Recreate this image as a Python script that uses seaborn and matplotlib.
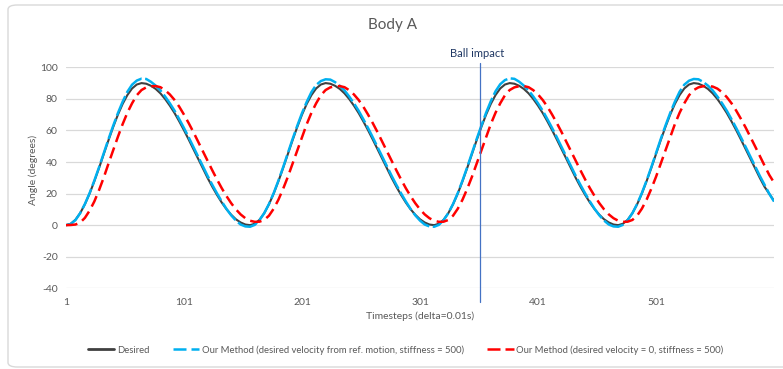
import matplotlib
matplotlib.use("Agg")
import matplotlib.pyplot as plt
from matplotlib.lines import Line2D
from matplotlib.patches import FancyBboxPatch
import seaborn as sns
import pandas as pd

# ---------------- data ----------------
timesteps = list(range(1, 602, 4))

desired = [
    0.0, 0.9, 3.4, 7.6, 13.2, 20.0, 27.8, 36.2, 45.0, 53.8, 62.2, 70.0, 76.8,
    82.4, 86.6, 89.1, 90.0, 89.6, 88.3, 86.3, 83.5, 79.9, 75.7, 71.0, 65.7, 60.1,
    54.2, 48.1, 41.9, 35.8, 29.9, 24.3, 19.1, 14.3, 10.1, 6.6, 3.7, 1.7, 0.4,
    0.0, 0.9, 3.4, 7.6, 13.2, 20.0, 27.8, 36.2, 45.0, 53.8, 62.2, 70.0, 76.8,
    82.4, 86.6, 89.1, 90.0, 89.6, 88.3, 86.3, 83.5, 79.9, 75.7, 71.0, 65.7, 60.1,
    54.2, 48.1, 41.9, 35.8, 29.9, 24.3, 19.1, 14.3, 10.1, 6.6, 3.7, 1.7, 0.4,
    0.0, 0.9, 3.4, 7.6, 13.2, 20.0, 27.8, 36.2, 45.0, 53.8, 62.2, 70.0, 76.8,
    82.4, 86.6, 89.1, 90.0, 89.6, 88.3, 86.3, 83.5, 79.9, 75.7, 71.0, 65.7, 60.1,
    54.2, 48.1, 41.9, 35.8, 29.9, 24.3, 19.1, 14.3, 10.1, 6.6, 3.7, 1.7, 0.4,
    0.0, 0.9, 3.4, 7.6, 13.2, 20.0, 27.8, 36.2, 45.0, 53.8, 62.2, 70.0, 76.8,
    82.4, 86.6, 89.1, 90.0, 89.6, 88.3, 86.3, 83.5, 79.9, 75.7, 71.0, 65.7, 60.1,
    54.2, 48.1, 41.9, 35.8, 29.9, 24.3, 19.8, 15.5,
]

ours_ref_velocity = [
    0.0, 0.7, 3.2, 7.6, 13.4, 20.3, 28.2, 36.7, 45.6, 54.5, 63.0, 71.0, 78.2,
    84.5, 89.0, 91.6, 92.8, 92.6, 90.8, 88.4, 85.4, 81.5, 77.2, 72.5, 67.1, 61.5,
    55.6, 49.5, 43.3, 37.2, 31.2, 25.5, 20.1, 15.0, 10.3, 6.2, 2.9, 0.4, -0.8,
    -1.0, 0.2, 3.2, 7.6, 13.4, 20.3, 28.2, 36.7, 45.6, 54.5, 63.0, 71.0, 78.1,
    84.3, 88.8, 91.3, 92.4, 92.2, 90.6, 88.3, 85.4, 81.5, 77.2, 72.5, 67.1, 61.5,
    55.6, 49.5, 43.3, 37.2, 31.2, 25.5, 20.1, 15.0, 10.3, 6.2, 2.9, 0.4, -0.8,
    -1.0, 0.2, 3.2, 7.6, 13.4, 20.3, 28.2, 36.7, 45.6, 54.5, 63.0, 71.2, 78.5,
    84.8, 89.3, 91.9, 93.0, 92.7, 90.9, 88.4, 85.4, 81.5, 77.2, 72.5, 67.1, 61.5,
    55.6, 49.5, 43.3, 37.2, 31.2, 25.5, 20.1, 15.0, 10.3, 6.2, 2.9, 0.4, -0.8,
    -1.0, 0.2, 3.2, 7.6, 13.4, 20.3, 28.2, 36.7, 45.6, 54.5, 63.0, 71.0, 78.2,
    84.5, 89.0, 91.5, 92.6, 92.4, 90.7, 88.4, 85.4, 81.5, 77.2, 72.5, 67.1, 61.5,
    55.6, 49.5, 43.3, 37.2, 31.2, 25.5, 19.9, 15.0,
]

ours_zero_velocity = [
    0.0, 0.1, 0.4, 1.6, 4.6, 9.2, 15.0, 22.2, 30.2, 39.0, 47.5, 56.0, 64.0,
    71.2, 77.2, 82.3, 85.6, 87.3, 88.0, 88.1, 87.4, 85.5, 82.8, 79.3, 75.0, 70.0,
    64.6, 58.9, 52.9, 46.8, 40.7, 34.7, 28.9, 23.4, 18.4, 13.9, 10.0, 6.8, 4.4,
    2.8, 2.1, 2.2, 3.3, 6.0, 10.4, 16.1, 23.0, 30.6, 39.0, 47.5, 56.0, 64.0,
    71.2, 77.2, 82.3, 85.6, 87.3, 88.0, 88.1, 87.4, 85.5, 82.8, 79.3, 75.0, 70.0,
    64.6, 58.9, 52.9, 46.8, 40.7, 34.7, 28.9, 23.4, 18.4, 13.9, 10.0, 6.8, 4.4,
    2.8, 2.1, 2.2, 3.3, 6.0, 10.4, 16.1, 23.0, 30.6, 39.0, 47.5, 56.0, 64.0,
    71.2, 77.2, 82.3, 85.6, 87.3, 88.0, 88.1, 87.4, 85.5, 82.8, 79.3, 75.0, 70.0,
    64.6, 58.9, 52.9, 46.8, 40.7, 34.7, 28.9, 23.4, 18.4, 13.9, 10.0, 6.8, 4.4,
    2.8, 2.1, 2.2, 3.3, 6.0, 10.4, 16.1, 23.0, 30.6, 39.0, 47.5, 56.0, 64.0,
    71.2, 77.2, 82.3, 85.6, 87.3, 88.0, 88.1, 87.8, 86.5, 84.2, 81.1, 77.2, 72.5,
    67.3, 61.8, 55.9, 49.9, 43.8, 37.7, 31.8, 27.0,
]

series_names = [
    "Desired",
    "Our Method (desired velocity from ref. motion, stiffness = 500)",
    "Our Method (desired velocity = 0, stiffness = 500)",
]
x_tick_values = [1, 101, 201, 301, 401, 501]
y_tick_values = [-40, -20, 0, 20, 40, 60, 80, 100]
impact_step = 352
title_text = "Body A"
impact_text = "Ball impact"
x_label = "Timesteps (delta=0.01s)"
y_label = "Angle (degrees)"

# ---------------- styling ----------------
sns.set_theme(style="white")
plt.rcParams["font.family"] = ["Lato", "DejaVu Sans"]
plt.rcParams["axes.unicode_minus"] = False

colors = {series_names[0]: "#404040", series_names[1]: "#00b0f0", series_names[2]: "#ff0000"}
dashes = {series_names[0]: "", series_names[1]: (8.5, 1.4), series_names[2]: (4.6, 2.3)}
widths = {series_names[0]: 1.5, series_names[1]: 1.8, series_names[2]: 1.8}
text_gray = "#595959"

df = pd.concat([
    pd.DataFrame({"t": timesteps, "angle": desired, "series": series_names[0]}),
    pd.DataFrame({"t": timesteps, "angle": ours_ref_velocity, "series": series_names[1]}),
    pd.DataFrame({"t": timesteps, "angle": ours_zero_velocity, "series": series_names[2]}),
])

W, H = 783, 369
fig = plt.figure(figsize=(W / 100, H / 100), dpi=100)
ax = fig.add_axes([66 / W, 1 - 288.3 / H, (774 - 66) / W, (288.3 - 67.3) / H])

for name in series_names:
    sub = df[df["series"] == name]
    sns.lineplot(data=sub, x="t", y="angle", ax=ax, color=colors[name],
                 lw=widths[name], dashes=False, legend=False, estimator=None,
                 sort=False)
    line = ax.get_lines()[-1]
    if dashes[name]:
        line.set_dashes(dashes[name])

ax.set_xlim(1, 601)
ax.set_ylim(-40, 100)
ax.set_yticks(y_tick_values)
ax.set_yticklabels([str(v) for v in y_tick_values])
ax.set_xticks(x_tick_values)
ax.set_xticklabels([str(v) for v in x_tick_values])
ax.tick_params(axis="both", length=0, labelsize=7.5, colors=text_gray)
ax.tick_params(axis="x", pad=7)
ax.tick_params(axis="y", pad=6)
ax.grid(axis="y", color="#d9d9d9", lw=0.9)
ax.set_axisbelow(True)
for s in ax.spines.values():
    s.set_visible(False)

ax.set_xlabel(x_label, fontsize=7.5, color=text_gray)
ax.set_ylabel(y_label, fontsize=7.5, color=text_gray)
ax.xaxis.set_label_coords(0.5, -(316.7 - 288.3) / 221.0)
ax.yaxis.set_label_coords(-(66 - 33) / 708.0, (288.3 - 170) / 221.0)
ax.xaxis.label.set_va("center")
ax.yaxis.label.set_va("center")

# Ball impact marker
ax.axvline(impact_step, ymin=-0.061, ymax=1.021, color="#4472c4", lw=0.9,
           clip_on=False, zorder=5)
fig.text(477 / W, 1 - 53.5 / H, impact_text, ha="center", va="center",
         fontsize=8, color="#203864")

fig.text(393 / W, 1 - 25 / H, title_text, ha="center", va="center",
         fontsize=11, color=text_gray)

# legend
handles = [
    Line2D([], [], color=colors[series_names[0]], lw=2.0),
    Line2D([], [], color=colors[series_names[1]], lw=1.8, dashes=(5.2, 2.0)),
    Line2D([], [], color=colors[series_names[2]], lw=1.8, dashes=(5.2, 2.0)),
]
leg = fig.legend(handles, series_names, loc="center", ncol=3,
                 bbox_to_anchor=(405.5 / W, 1 - 350 / H), frameon=False,
                 fontsize=6.8, handlelength=2.8, handletextpad=0.25,
                 columnspacing=2.5)
for t in leg.get_texts():
    t.set_color(text_gray)

# chart area border
border = FancyBboxPatch((8 / W, 2 / H), (820 - 8) / W, (364 - 2) / H,
                        boxstyle="round,pad=0,rounding_size=0.012",
                        transform=fig.transFigure, fill=False,
                        edgecolor="#d9d9d9", lw=1.0, clip_on=True)
fig.patches.append(border)

fig.savefig("out.png", dpi=100)
